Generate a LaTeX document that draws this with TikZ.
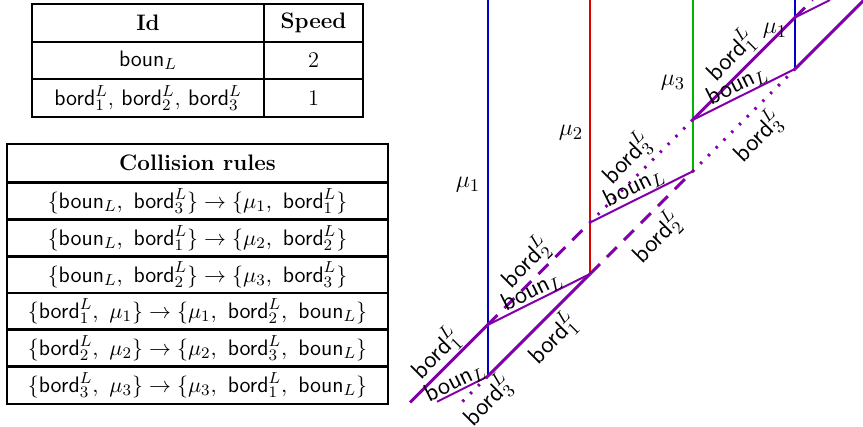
\documentclass[tikz,border=0pt]{standalone}
\usepackage{amsmath}
\begin{document}
\begin{tikzpicture}[x=0.5pt,y=-0.5pt,
  tbl/.style={line width=1.2pt},
  cell/.style={font=\fontsize{11.2}{13}\selectfont, inner sep=0pt},
  lbl/.style={font=\fontsize{12.5}{14}\selectfont, inner sep=0pt},
  bordsolid/.style={draw=purp, line width=1.5pt},
  borddash/.style={draw=purp, line width=1.5pt, dash pattern=on 7pt off 5pt},
  borddot/.style={draw=purp, line width=1.5pt, dash pattern=on 1.2pt off 4.3pt},
  bounline/.style={draw=purp, line width=1pt},
  vline/.style={line width=1pt}]
\definecolor{purp}{RGB}{130,0,170}
\definecolor{myblue}{RGB}{0,0,200}
\definecolor{myred}{RGB}{225,0,0}
\definecolor{mygreen}{RGB}{0,180,0}
\useasboundingbox (0,0) rectangle (863,427);

% ---- Table 1
\draw[tbl] (32,4) rectangle (363,117);
\draw[tbl] (32,42) -- (363,42);
\draw[tbl] (32,79) -- (363,79);
\draw[tbl] (264,4) -- (264,117);
\node[cell] (t1a) at (148,23) {\textbf{Id}};
\node[cell] (t1b) at (313.5,23) {\textbf{Speed}};
\node[cell] (t1c) at (148,60.5) {$\textsf{boun}_L$};
\node[cell] (t1d) at (313.5,60.5) {2};
\node[cell] (t1e) at (148,98) {$\textsf{bord}^L_1$, $\textsf{bord}^L_2$, $\textsf{bord}^L_3$};
\node[cell] (t1f) at (313.5,98) {1};

% ---- Table 2
\draw[tbl] (7,144) rectangle (388,404);
\foreach \yy in {182.5,219.5,256.5,293,329.5,366.5}{\draw[tbl] (7,\yy) -- (388,\yy);}
\node[cell] (t2h) at (197.5,163) {\textbf{Collision rules}};
\node[cell] (r1) at (197.5,201) {$\{\textsf{boun}_L,\ \textsf{bord}^L_3\}\to\{\mu_1,\ \textsf{bord}^L_1\}$};
\node[cell] (r2) at (197.5,238) {$\{\textsf{boun}_L,\ \textsf{bord}^L_1\}\to\{\mu_2,\ \textsf{bord}^L_2\}$};
\node[cell] (r3) at (197.5,274.75) {$\{\textsf{boun}_L,\ \textsf{bord}^L_2\}\to\{\mu_3,\ \textsf{bord}^L_3\}$};
\node[cell] (r4) at (197.5,311.25) {$\{\textsf{bord}^L_1,\ \mu_1\}\to\{\mu_1,\ \textsf{bord}^L_2,\ \textsf{boun}_L\}$};
\node[cell] (r5) at (197.5,348) {$\{\textsf{bord}^L_2,\ \mu_2\}\to\{\mu_2,\ \textsf{bord}^L_3,\ \textsf{boun}_L\}$};
\node[cell] (r6) at (197.5,385.25) {$\{\textsf{bord}^L_3,\ \mu_3\}\to\{\mu_3,\ \textsf{bord}^L_1,\ \textsf{boun}_L\}$};

% ---- Diagram points
\coordinate (U0) at (487.5,325);
\coordinate (U1) at (590,222.5);
\coordinate (U2) at (692.5,120);
\coordinate (U3) at (795,17.5);
\coordinate (L0) at (487.5,376.5);
\coordinate (L1) at (590,274);
\coordinate (L2) at (692.5,171.5);
\coordinate (L3) at (795,69);
\coordinate (Us) at (410,402.5);
\coordinate (Ue) at (812.5,0);
\coordinate (Ls) at (460,404);
\coordinate (Le) at (864,0);
\coordinate (Bs) at (437,401.75);
\coordinate (Be) at (830,0);
\coordinate (T0) at (487.5,0);
\coordinate (T1) at (590,0);
\coordinate (T2) at (692.5,0);
\coordinate (T3) at (795,0);

% vertical particles
\draw[vline, myblue] (L0) -- (T0);
\draw[vline, myred] (L1) -- (T1);
\draw[vline, mygreen] (L2) -- (T2);
\draw[vline, myblue] (L3) -- (T3);

% upper bord line
\draw[bordsolid] (Us) -- (U0);
\draw[borddash] (U0) -- (U1);
\draw[borddot] (U1) -- (U2);
\draw[bordsolid] (U2) -- (U3);
\draw[borddash] (U3) -- (Ue);
% lower bord line
\draw[borddot] (L0) -- (Ls);
\draw[bordsolid] (L0) -- (L1);
\draw[borddash] (L1) -- (L2);
\draw[borddot] (L2) -- (L3);
\draw[bordsolid] (L3) -- (Le);
% boun lines
\draw[bounline] (Bs) -- (L0);
\draw[bounline] (U0) -- (L1);
\draw[bounline] (U1) -- (L2);
\draw[bounline] (U2) -- (L3);
\draw[bounline] (U3) -- (Be);

% labels
\node[lbl] (m1) at (468,185) {$\mu_1$};
\node[lbl] (m2) at (571,133) {$\mu_2$};
\node[lbl] (m3) at (673,83) {$\mu_3$};
\node[lbl] (m4) at (775,31) {$\mu_1$};

\node[lbl, rotate=45] (a1) at (436,353) {$\textsf{bord}^L_1$};
\node[lbl, rotate=26.57] (a2) at (455,382) {$\textsf{boun}_L$};
\node[lbl, rotate=45] (a3) at (488,400) {$\textsf{bord}^L_3$};
\node[lbl, rotate=45] (a4) at (553,338) {$\textsf{bord}^L_1$};
\node[lbl, rotate=26.57] (a5) at (532,291) {$\textsf{boun}_L$};
\node[lbl, rotate=45] (a6) at (526,262) {$\textsf{bord}^L_2$};
\node[lbl, rotate=45] (a7) at (657,237) {$\textsf{bord}^L_2$};
\node[lbl, rotate=45] (a8) at (627,158) {$\textsf{bord}^L_3$};
\node[lbl, rotate=26.57] (a9) at (634,187) {$\textsf{boun}_L$};
\node[lbl, rotate=45] (a10) at (758,136) {$\textsf{bord}^L_3$};
\node[lbl, rotate=45] (a11) at (731,55) {$\textsf{bord}^L_1$};
\node[lbl, rotate=26.57] (a12) at (737,85) {$\textsf{boun}_L$};
\end{tikzpicture}
\end{document}
